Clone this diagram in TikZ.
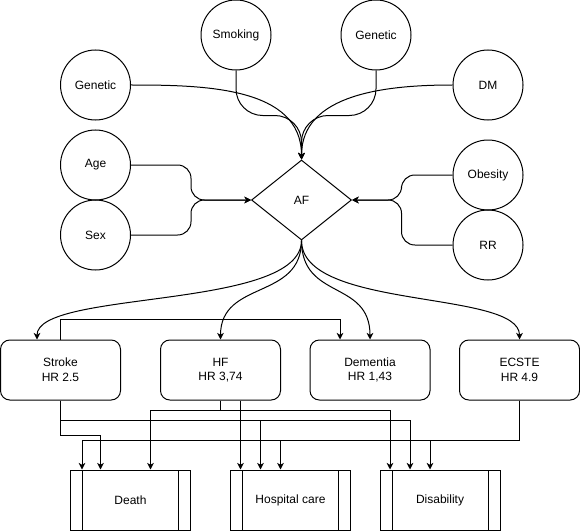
\documentclass[tikz,border=0pt]{standalone}
\usepackage{fontspec}
\setmainfont{Liberation Sans}
\usepackage{tikz}
\usetikzlibrary{calc,positioning,arrows.meta,shapes}

\begin{document}
\begin{tikzpicture}[x=0.75pt, y=-0.75pt, align=center, line width=0.75pt,
        font=\fontsize{9}{11}\selectfont,
        factor/.style={draw, circle, minimum size=52.5pt, inner sep=0pt},
        outcome/.style={draw, rounded corners=7pt, minimum width=90pt, minimum height=45pt},
        result/.style={draw, minimum width=90pt, minimum height=45pt, path picture={
            \draw ([xshift=9pt]path picture bounding box.north west) -- ([xshift=9pt]path picture bounding box.south west);
            \draw ([xshift=-9pt]path picture bounding box.north east) -- ([xshift=-9pt]path picture bounding box.south east);}},
        arr/.style={-{Stealth[length=5pt, width=5pt, inset=1.5pt]}}]
        \useasboundingbox (0,0) rectangle (580,531);

        \node [factor] (smoking) at (236,35) {Smoking};
        \node [factor] (genr) at (376,35) {Genetic};
        \node [factor] (genl) at (95.5,85) {Genetic};
        \node [factor] (dm) at (488,85) {DM};
        \node [factor] (age) at (95.5,165) {Age};
        \node [factor] (sex) at (95.5,235) {Sex};
        \node [factor] (obesity) at (488,175) {Obesity};
        \node [factor] (rr) at (488,245) {RR};

        \node [draw, diamond, minimum width=75pt, minimum height=60pt, inner sep=0pt] (af) at (301.5,200) {AF};

        \node [outcome] (stroke) at (60.5,370) {Stroke\\HR 2.5};
        \node [outcome] (hf) at (220.5,370) {HF\\HR 3,74};
        \node [outcome] (dementia) at (370,370) {Dementia\\HR 1,43};
        \node [outcome] (ecste) at (519.5,370) {ECSTE\\HR 4.9};

        \node [result] (death) at (130.5,500) {Death};
        \node [result] (hospital) at (290.5,500) {Hospital care};
        \node [result] (disability) at (440,500) {Disability};

        % risk factors into AF
        \draw[arr, rounded corners=20pt] (smoking.south) -- ++(0,45) -| (af.north);
        \draw[arr, rounded corners=20pt] (genr.south) -- ++(0,45) -| (af.north);
        \draw[arr] (genl.east) to[out=0, in=90] (af.north);
        \draw[arr] (dm.west) to[out=180, in=90] (af.north);
        \draw[arr, rounded corners=10pt] (age.east) -- ++(60,0) |- (af.west);
        \draw[arr, rounded corners=10pt] (sex.east) -- ++(60,0) |- (af.west);
        \draw[arr, rounded corners=10pt] (obesity.west) -- ++(-51,0) |- (af.east);
        \draw[arr, rounded corners=10pt] (rr.west) -- ++(-51,0) |- (af.east);

        % AF to outcomes
        \draw[arr] (af.south) .. controls +(0,70) and +(0,-50) .. ($(stroke.north)+(-23.5,0)$);
        \draw[arr] (af.south) .. controls +(0,60) and +(0,-60) .. (hf.north);
        \draw[arr] (af.south) .. controls +(0,60) and +(0,-60) .. (dementia.north);
        \draw[arr] (af.south) .. controls +(0,70) and +(0,-50) .. (ecste.north);

        \draw[arr] (stroke.north) -- ++(0,-20) -| ($(dementia.north)+(-30,0)$);

        % outcomes to results
        \draw[arr] (stroke.south) -- ++(0,35) -| ($(death.north)+(-30,0)$);
        \draw[arr] (stroke.south) -- ++(0,20) -| ($(hospital.north)+(-30,0)$);
        \draw[arr] (stroke.south) -- ++(0,20) -| ($(disability.north)+(-30,0)$);

        \draw[arr] (hf.south) -- ++(0,10) -| ($(death.north)+(20,0)$);
        \draw[arr] ($(hf.south)+(20,0)$) -- ($(hospital.north)+(-50,0)$);
        \draw[arr] (hf.south) -- ++(0,10) -| ($(disability.north)+(-50,0)$);

        \draw[arr] (ecste.south) -- ++(0,40) -| ($(death.north)+(-48.5,0)$);
        \draw[arr] (ecste.south) -- ++(0,40) -| ($(hospital.north)+(-10,0)$);
        \draw[arr] (ecste.south) -- ++(0,40) -| ($(disability.north)+(-10,0)$);

    \end{tikzpicture}
\end{document}
